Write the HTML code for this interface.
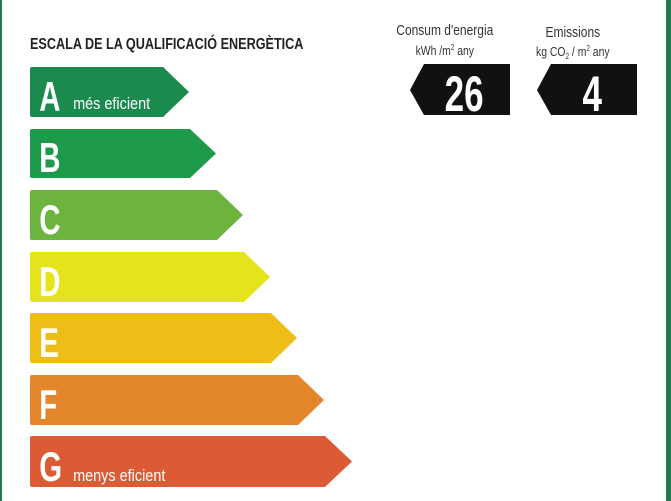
<!DOCTYPE html><html><head><meta charset="utf-8"><style>
body{margin:0;width:671px;height:501px;background:#fff;position:relative;overflow:hidden;font-family:"Liberation Sans",sans-serif}
</style></head><body>
<div style="position:absolute;left:0;top:0;width:2px;height:501px;background:#1d7b4d"></div>
<div style="position:absolute;right:0;top:0;width:5px;height:501px;background:#1d7b4d"></div>
<svg width="671" height="501" style="position:absolute;left:0;top:0">
<g font-family="Liberation Sans" fill="#fff">
<path d="M32,67H163L189,92L163,117H32Q30,117 30,115V69Q30,67 32,67Z" fill="#1a8a4f"/>
<path d="M32,129H190L216,153.5L190,178H32Q30,178 30,176V131Q30,129 32,129Z" fill="#1e9a4b"/>
<path d="M32,190H217L243,215L217,240H32Q30,240 30,238V192Q30,190 32,190Z" fill="#6db43f"/>
<path d="M32,252H244L270,277L244,302H32Q30,302 30,300V254Q30,252 32,252Z" fill="#e5e41c"/>
<path d="M32,313H271L297,338L271,363H32Q30,363 30,361V315Q30,313 32,313Z" fill="#eebd16"/>
<path d="M32,375H298L324,400L298,425H32Q30,425 30,423V377Q30,375 32,375Z" fill="#e4862b"/>
<path d="M32,436H325L352,461.5L325,487H32Q30,487 30,485V438Q30,436 32,436Z" fill="#dc5b35"/>
<g font-weight="bold" font-size="42" transform="scale(0.7,1)">
<text x="56" y="111">A</text><text x="56" y="172">B</text><text x="56" y="234">C</text><text x="56" y="296">D</text><text x="56" y="357">E</text><text x="56" y="419">F</text><text x="56" y="481">G</text>
</g>
<g font-size="17" transform="scale(0.85,1)"><text x="86" y="109">més eficient</text><text x="86" y="481">menys eficient</text></g>
<path d="M410,90L424,64H510V115H424Z" fill="#111"/>
<path d="M537,90L551,64H637V115H551Z" fill="#111"/>
<g font-weight="bold" font-size="50" transform="scale(0.7,1)"><text x="663" y="111" text-anchor="middle">26</text><text x="846" y="111" text-anchor="middle">4</text></g>
</g>
<g fill="#222">
<text transform="scale(0.79,1)" x="38" y="49" font-weight="bold" font-size="16">ESCALA DE LA QUALIFICACIÓ ENERGÈTICA</text>
<g transform="scale(0.8,1)" fill="#333" text-anchor="middle">
<text x="556" y="35" font-size="15">Consum d'energia</text>
<text x="556" y="55" font-size="13">kWh /m<tspan font-size="8" dy="-5">2</tspan><tspan dy="5"> any</tspan></text>
<text x="716" y="37" font-size="15">Emissions</text>
<text x="716" y="56" font-size="13">kg CO<tspan font-size="8" dy="3">2</tspan><tspan dy="-3"> / m</tspan><tspan font-size="8" dy="-5">2</tspan><tspan dy="5"> any</tspan></text>
</g>
</g>
</svg>
</body></html>
